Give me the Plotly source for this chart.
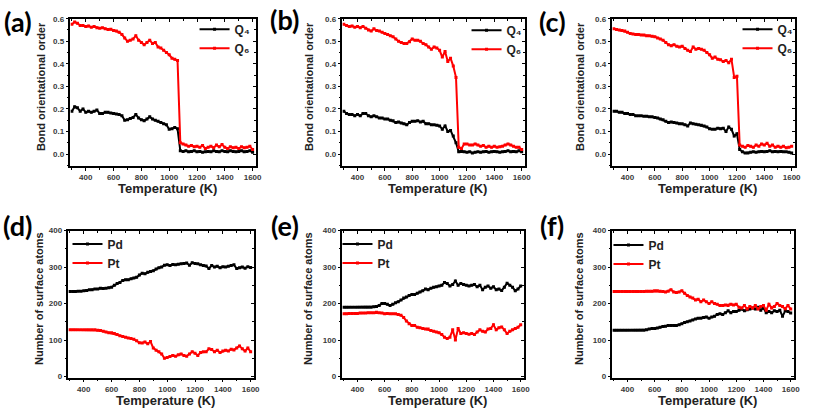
import plotly.graph_objects as go

W, H = 813, 416

# ---------------- data ----------------
temperature = list(range(300, 1601, 20))

q6_a = [.575, .585, .58, .57, .57, .565, .568, .562, .565, .56, .558, .56, .555, .552, .553, .548, .545, .54, .53, .515,
        .50, .505, .51, .525, .505, .495, .485, .495, .505, .49, .495, .475, .47, .46, .45, .44, .425, .42, .415, .05,
        .045, .04, .035, .038, .033, .035, .03, .038, .025, .03, .035, .028, .04, .032, .042, .03, .025, .032, .028, .03,
        .025, .032, .028, .03, .035, .02]
q4_a = [.19, .21, .205, .19, .2, .185, .19, .185, .19, .195, .18, .18, .185, .185, .182, .18, .178, .175, .17, .15,
        .152, .158, .162, .175, .16, .152, .148, .155, .165, .155, .15, .145, .14, .135, .13, .11, .112, .118, .112, .015,
        .012, .015, .01, .012, .015, .01, .012, .008, .01, .012, .01, .015, .012, .01, .015, .012, .01, .015, .012, .01,
        .012, .015, .01, .012, .015, .008]

q6_b = [.575, .57, .565, .568, .562, .565, .56, .565, .558, .55, .545, .555, .548, .545, .54, .535, .53, .525, .52, .51,
        .5, .495, .49, .49, .498, .51, .505, .505, .5, .49, .485, .475, .465, .475, .47, .46, .43, .455, .41, .425,
        .39, .34, .03, .025, .045, .045, .04, .04, .045, .04, .035, .038, .03, .035, .03, .035, .03, .032, .035, .04,
        .045, .04, .035, .03, .03, .02]
q4_b = [.19, .18, .175, .175, .17, .175, .17, .18, .18, .17, .165, .17, .165, .16, .16, .155, .155, .15, .148, .14,
        .142, .138, .135, .13, .14, .145, .145, .148, .142, .145, .135, .135, .13, .13, .128, .125, .11, .125, .1, .105,
        .08, .05, .01, .012, .01, .008, .01, .005, .008, .01, .008, .01, .012, .008, .01, .012, .01, .008, .01, .012,
        .015, .01, .012, .01, .015, .01]

q6_c = [.555, .552, .55, .548, .545, .54, .535, .532, .53, .53, .528, .528, .525, .525, .522, .52, .515, .51, .505, .495,
        .485, .48, .485, .478, .475, .478, .468, .46, .455, .475, .465, .468, .465, .46, .45, .44, .425, .43, .42, .418,
        .41, .415, .405, .42, .34, .345, .04, .035, .03, .038, .035, .03, .04, .035, .045, .04, .048, .035, .04, .03,
        .035, .03, .035, .028, .03, .035]
q4_c = [.19, .19, .185, .185, .18, .18, .175, .175, .17, .17, .17, .168, .168, .165, .165, .162, .16, .155, .152, .145,
        .14, .142, .14, .138, .135, .135, .13, .125, .138, .135, .132, .13, .128, .125, .12, .112, .11, .11, .115, .112,
        .115, .1, .12, .11, .08, .09, .02, .01, .005, .005, .008, .01, .008, .01, .012, .01, .012, .015, .01, .012,
        .01, .012, .01, .01, .008, .005]

pd_d = [233, 233, 233, 234, 234, 235, 236, 238, 238, 240, 240, 242, 241, 242, 243, 245, 250, 255, 258, 263,
        265, 265, 268, 270, 272, 278, 283, 282, 286, 288, 290, 295, 298, 300, 305, 306, 304, 307, 306, 308,
        309, 310, 311, 305, 312, 310, 309, 306, 304, 303, 296, 304, 300, 302, 298, 301, 300, 302, 304, 306,
        296, 298, 300, 297, 301, 299]
pt_d = [128, 128, 128, 128, 128, 128, 128, 128, 128, 128, 127, 126, 124, 122, 120, 120, 118, 115, 112, 110,
        108, 106, 104, 102, 98, 93, 92, 95, 90, 96, 78, 72, 68, 62, 50, 52, 55, 58, 56, 60,
        62, 58, 56, 62, 68, 64, 58, 66, 68, 68, 76, 74, 68, 72, 66, 70, 72, 70, 75, 73,
        78, 84, 76, 70, 78, 68]

pd_e = [190, 190, 190, 190, 190, 190, 190, 190, 190, 190, 190, 191, 192, 195, 200, 200, 198, 195, 198, 202,
        205, 210, 215, 218, 222, 225, 225, 228, 232, 235, 240, 238, 242, 245, 246, 248, 250, 258, 255, 248,
        252, 262, 250, 255, 252, 250, 248, 250, 252, 246, 250, 238, 245, 248, 242, 246, 238, 240, 236, 245,
        256, 250, 245, 235, 240, 248]
pt_e = [172, 172, 173, 173, 173, 173, 174, 174, 174, 175, 175, 175, 176, 175, 174, 172, 173, 172, 172, 172,
        170, 168, 162, 152, 145, 140, 140, 135, 134, 132, 130, 130, 126, 124, 122, 120, 115, 108, 104, 108,
        128, 100, 132, 118, 120, 118, 116, 118, 115, 122, 128, 124, 122, 130, 132, 142, 128, 134, 136, 128,
        118, 124, 128, 132, 135, 142]

pd_f = [127, 127, 127, 127, 127, 127, 127, 127, 127, 127, 127, 127, 128, 130, 132, 132, 133, 135, 137, 138,
        140, 140, 140, 140, 142, 145, 148, 150, 152, 155, 158, 160, 160, 162, 163, 160, 163, 165, 170, 172,
        170, 175, 180, 175, 178, 178, 182, 185, 180, 183, 185, 188, 185, 190, 182, 188, 175, 178, 175, 180,
        178, 182, 165, 180, 178, 174]
pt_f = [233, 233, 233, 233, 233, 233, 233, 233, 233, 233, 233, 233, 234, 234, 234, 235, 235, 234, 233, 232,
        234, 238, 232, 230, 232, 235, 228, 222, 218, 215, 210, 212, 205, 210, 205, 200, 205, 200, 198, 195,
        195, 196, 195, 198, 196, 198, 190, 188, 195, 185, 192, 188, 195, 185, 192, 195, 182, 198, 188, 192,
        200, 195, 192, 186, 195, 185]

panel_labels = ["(a)", "(b)", "(c)", "(d)", "(e)", "(f)"]
top_names = ["Q\u2084", "Q\u2086"]
bottom_names = ["Pd", "Pt"]
x_title = "Temperature (K)"
y_title_top = "Bond orientational order"
y_title_bottom = "Number of surface atoms"

panels = [
    (q4_a, q6_a, top_names), (q4_b, q6_b, top_names), (q4_c, q6_c, top_names),
    (pd_d, pt_d, bottom_names), (pd_e, pt_e, bottom_names), (pd_f, pt_f, bottom_names),
]

# ---------------- layout geometry (pixels) ----------------
xdom_px = [(71, 258), (345, 529), (617, 801), (69, 256), (345, 528), (617, 800)]
ydom_px = [(15, 165)] * 3 + [(231, 381)] * 3
legend_px = [(196, 11), (470, 12), (743, 11), (68, 230), (340, 230), (613, 231)]
ytitle_x = [42, 312, 585, 40, 311, 584]
label_pos = [(18, 18), (287, 16), (557, 18), (18, 226), (287, 226), (556, 226)]

def px(x):
    return x / W

def py(y):
    return 1 - y / H

fig = go.Figure()
tick_font = dict(family="Liberation Sans", size=8, color="#3a3a3a", weight="bold")
title_font = dict(family="Liberation Sans", size=13, color="#222", weight="bold")
colors = ["#000000", "#ff0000"]

layout = dict(
    width=W, height=H, margin=dict(l=0, r=0, t=0, b=0),
    paper_bgcolor="white", plot_bgcolor="white", showlegend=True,
)
annotations = []

for i, (s1, s2, names) in enumerate(panels):
    n = i + 1
    xa = "x" if n == 1 else f"x{n}"
    ya = "y" if n == 1 else f"y{n}"
    lg = "legend" if n == 1 else f"legend{n}"
    top = i < 3
    for s, name, c in zip((s1, s2), names, colors):
        fig.add_trace(go.Scatter(
            x=temperature, y=s, name=name, mode="lines+markers",
            line=dict(color=c, width=2), marker=dict(symbol="square", size=3, color=c),
            xaxis=xa, yaxis=ya, legend=lg,
        ))
    xd = [px(xdom_px[i][0]), px(xdom_px[i][1])]
    yd = [py(ydom_px[i][1]), py(ydom_px[i][0])]
    xr = [290, 1625]
    yr = [-0.052, 0.6] if top else [-3, 400]
    ydt = 0.1 if top else 100
    ytf = ".1f" if top else "d"
    common = dict(showgrid=False, zeroline=False, linecolor="black", linewidth=1.5)
    layout[f"xaxis{'' if n == 1 else n}"] = dict(
        domain=xd, anchor=ya, range=xr, tick0=400, dtick=200, ticks="outside", ticklen=3,
        tickwidth=1.2, tickcolor="black", tickfont=tick_font, showline=True, mirror=True,
        minor=dict(ticks="outside", ticklen=2, dtick=100, tick0=300, tickcolor="black"),
        **common)
    layout[f"yaxis{'' if n == 1 else n}"] = dict(
        domain=yd, anchor=xa, range=yr, dtick=ydt, tick0=0, tickformat=ytf, ticks="outside",
        ticklen=3, tickwidth=1.2, tickcolor="black", tickfont=tick_font, showline=True, mirror=True,
        minor=dict(ticks="outside", ticklen=2, dtick=ydt / 2, tickcolor="black"),
        **common)
    # mirrored inward ticks (top / right)
    m = n + 6
    layout[f"xaxis{m}"] = dict(
        overlaying=xa, side="top", anchor=ya, range=xr, tick0=400, dtick=200, ticks="inside",
        ticklen=3, tickwidth=1.2, tickcolor="black", showticklabels=False, showline=False,
        showgrid=False, zeroline=False,
        minor=dict(ticks="inside", ticklen=2, dtick=100, tick0=300, tickcolor="black"))
    layout[f"yaxis{m}"] = dict(
        overlaying=ya, side="right", anchor=xa, range=yr, dtick=ydt, tick0=0, ticks="inside",
        ticklen=3, tickwidth=1.2, tickcolor="black", showticklabels=False, showline=False,
        showgrid=False, zeroline=False,
        minor=dict(ticks="inside", ticklen=2, dtick=ydt / 2, tickcolor="black"))
    fig.add_trace(go.Scatter(x=[xr[0]], y=[yr[0]], mode="markers", marker=dict(opacity=0),
                             showlegend=False, hoverinfo="skip",
                             xaxis=f"x{m}", yaxis=f"y{m}"))
    layout[lg] = dict(
        x=px(legend_px[i][0]), y=py(legend_px[i][1]), xanchor="left", yanchor="top",
        bgcolor="rgba(0,0,0,0)", borderwidth=0, itemwidth=30, tracegroupgap=0,
        font=dict(family="Liberation Sans", size=12, color="#222", weight="bold"),
    )
    # axis titles
    xc = (xdom_px[i][0] + xdom_px[i][1]) / 2 + 4
    annotations.append(dict(
        text=x_title, x=px(xc), y=py(ydom_px[i][1] + 23), xref="paper", yref="paper",
        showarrow=False, font=title_font, xanchor="center", yanchor="middle"))
    annotations.append(dict(
        text=y_title_top if top else y_title_bottom, x=px(ytitle_x[i]),
        y=py((ydom_px[i][0] + ydom_px[i][1]) / 2 - 6), xref="paper", yref="paper",
        showarrow=False, textangle=-90, xanchor="center", yanchor="middle",
        font=dict(family="Liberation Sans", size=11, color="#222", weight="bold")))
    annotations.append(dict(
        text=panel_labels[i], x=px(label_pos[i][0]), y=py(label_pos[i][1]), xref="paper", yref="paper",
        showarrow=False, xanchor="center", yanchor="middle",
        font=dict(family="Lato", size=27, color="black", weight="bold")))

layout["annotations"] = annotations
fig.update_layout(**layout)
fig.write_html("out.html")
